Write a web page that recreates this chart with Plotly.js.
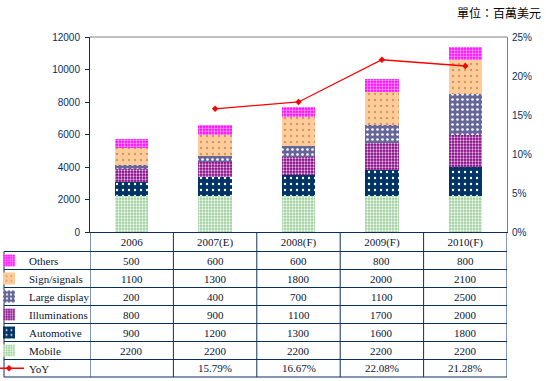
<!DOCTYPE html>
<html>
<head>
<meta charset="utf-8">
<script src="https://cdn.plot.ly/plotly-3.0.1.min.js"></script>
<style>html,body{margin:0;padding:0;background:#fff;}#chart{width:546px;height:381px;}</style>
</head>
<body>
<div id="chart"></div>
<script>
// ---- data ----
const categories = ['2006', '2007(E)', '2008(F)', '2009(F)', '2010(F)'];
const others = [500, 600, 600, 800, 800];
const signSignals = [1100, 1300, 1800, 2000, 2100];
const largeDisplay = [200, 400, 700, 1100, 2500];
const illuminations = [800, 900, 1100, 1700, 2000];
const automotive = [900, 1200, 1300, 1600, 1800];
const mobile = [2200, 2200, 2200, 2200, 2200];
const yoy = [null, 15.79, 16.67, 22.08, 21.28];
const leftTicks = [0, 2000, 4000, 6000, 8000, 10000, 12000];
const rightTicks = [0, 0.05, 0.10, 0.15, 0.20, 0.25];
const unitLabel = '單位：百萬美元';

// ---- layout helpers (pixel geometry) ----
const W = 546, H = 381, L = 90, R = 507, T = 37, B = 232;
const px2x = xp => (xp - L) / (R - L);
const px2y = yp => (B - yp) / (B - T);
const rowEdges = [251.5, 269.5, 287.5, 305.5, 323.5, 341.5, 359.5, 377];
const rowCenter = i => (rowEdges[i] + rowEdges[i + 1]) / 2;
const navy = '#0b2f5c';
const textCol = '#0a1633';
const serif = 'Liberation Serif, Times New Roman, serif';
const sans = 'Liberation Sans, Arial, sans-serif';
const fs = 11;

// table rows (top to bottom)
const rows = [
  {name: 'Others', vals: others, bg: '#FF00FF', fg: '#FFA8FF', shape: '.', size: 3, sol: 0.45},
  {name: 'Sign/signals', vals: signSignals, bg: '#FFCC99', fg: '#C99A6A', shape: '.', size: 6, sol: 0.12},
  {name: 'Large display', vals: largeDisplay, bg: '#666699', fg: '#FFFFFF', shape: '.', size: 5, sol: 0.22},
  {name: 'Illuminations', vals: illuminations, bg: '#800080', fg: '#E2B8E2', shape: '.', size: 3, sol: 0.45},
  {name: 'Automotive', vals: automotive, bg: '#003366', fg: '#FFFFFF', shape: '.', size: 6, sol: 0.12},
  {name: 'Mobile', vals: mobile, bg: '#9CCB9C', fg: '#F0FFF0', shape: '.', size: 3, sol: 0.45}
];

const traces = [];
const legendLayouts = {};
// stack from bottom (Mobile) upward
for (let k = rows.length - 1; k >= 0; k--) {
  const r = rows[k];
  const lg = 'legend' + (k === 0 ? '' : (k + 1));
  traces.push({
    type: 'bar', name: r.name, x: categories, y: r.vals,
    marker: {color: r.bg, line: {width: 0},
      pattern: {shape: r.shape, bgcolor: r.bg, fgcolor: r.fg, size: r.size, solidity: r.sol, fillmode: 'replace'}},
    legend: lg, hoverinfo: 'skip'
  });
}
traces.push({
  type: 'scatter', mode: 'lines+markers', name: 'YoY', x: categories,
  y: yoy.map(v => v === null ? null : v / 100), yaxis: 'y2',
  line: {color: '#FF0000', width: 1.3}, marker: {color: '#FF0000', symbol: 'diamond', size: 5},
  legend: 'legend7', hoverinfo: 'skip'
});

for (let k = 0; k < 7; k++) {
  const key = 'legend' + (k === 0 ? '' : (k + 1));
  legendLayouts[key] = {
    x: px2x(-11), y: px2y(rowCenter(k)), xref: 'paper', yref: 'paper',
    xanchor: 'left', yanchor: 'middle', bgcolor: 'rgba(0,0,0,0)', borderwidth: 0,
    font: {family: serif, size: fs, color: textCol}, itemclick: false, itemdoubleclick: false
  };
}

// table lines
const shapes = [];
const ln = (x0, y0, x1, y1, xref, color) => ({type: 'line', xref: xref, yref: 'paper', x0: x0, x1: x1, y0: y0, y1: y1, line: {color: color || navy, width: 1}});
shapes.push(ln(0, 1, 1, 1, 'paper', '#808080'));
for (let c = 0; c <= categories.length; c++) {
  shapes.push(ln(c - 0.5, px2y(B), c - 0.5, px2y(rowEdges[rowEdges.length - 1]), 'x'));
}
shapes.push(ln(px2x(4), px2y(rowEdges[0]), px2x(4), px2y(rowEdges[rowEdges.length - 1]), 'paper'));
rowEdges.forEach(y => shapes.push(ln(px2x(4), px2y(y), 1, px2y(y), 'paper')));

// table cell texts
const annotations = [];
const fmt = v => v === null ? '' : v.toFixed(2) + '%';
rows.forEach((r, i) => r.vals.forEach((v, c) => annotations.push({
  xref: 'x', yref: 'paper', x: c, y: px2y(rowCenter(i)), text: String(v), showarrow: false,
  xanchor: 'center', yanchor: 'middle', font: {family: serif, size: fs, color: textCol}
})));
yoy.forEach((v, c) => annotations.push({
  xref: 'x', yref: 'paper', x: c, y: px2y(rowCenter(6)), text: fmt(v), showarrow: false,
  xanchor: 'center', yanchor: 'middle', font: {family: serif, size: fs, color: textCol}
}));
annotations.push({xref: 'paper', yref: 'paper', x: px2x(543), y: px2y(12), xanchor: 'right', yanchor: 'middle',
  text: unitLabel, showarrow: false, font: {family: 'Noto Sans CJK TC, sans-serif', size: 12, color: '#000'}});

const layout = Object.assign({
  width: W, height: H,
  margin: {l: L, r: W - R, t: T, b: H - B, pad: 0, autoexpand: false},
  paper_bgcolor: '#fff', plot_bgcolor: '#fff',
  barmode: 'stack', bargap: 0.6,
  showlegend: true,
  xaxis: {type: 'category', range: [-0.5, categories.length - 0.5], showline: true, linecolor: navy, linewidth: 1,
    ticks: '', showgrid: false, zeroline: false, fixedrange: true,
    tickfont: {family: serif, size: fs, color: textCol}},
  yaxis: {range: [0, 12000], tickvals: leftTicks, tickformat: 'd', ticks: 'outside', ticklen: 4, tickcolor: navy,
    showline: true, linecolor: navy, showgrid: false, zeroline: false, fixedrange: true,
    ticklabelstandoff: 3,
    tickfont: {family: sans, size: 10, color: '#0b2f5c'}},
  yaxis2: {overlaying: 'y', side: 'right', range: [0, 0.25], tickvals: rightTicks, tickformat: '.0%',
    ticks: '', showline: true, linecolor: '#808080', showgrid: false, zeroline: false, fixedrange: true,
    ticklabelstandoff: 2,
    tickfont: {family: sans, size: 10, color: '#0b2f5c'}},
  shapes: shapes, annotations: annotations
}, legendLayouts);

Plotly.newPlot('chart', traces, layout, {displayModeBar: false, staticPlot: true});
</script>
</body>
</html>
